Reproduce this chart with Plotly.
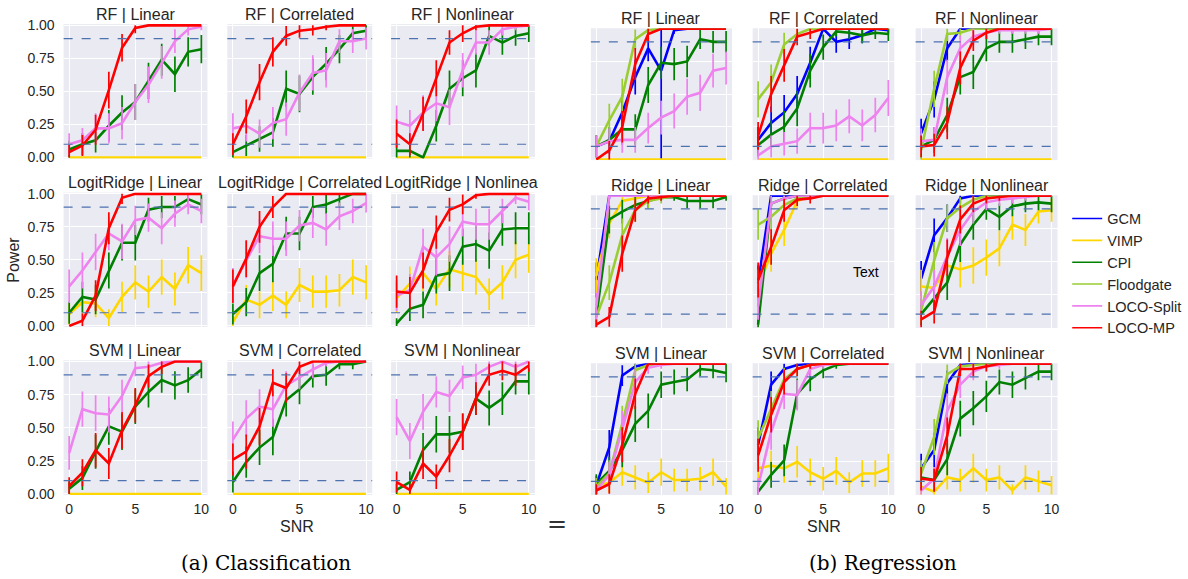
import math
import plotly.graph_objects as go

W, H = 1188, 579
# the photographed page is squeezed vertically: page px -> picture px = SC * (y + OFF)
SC, OFF = 0.973, 8.2

snr = [0, 1, 2, 3, 4, 5, 6, 7, 8, 9, 10]
methods = ["GCM", "VIMP", "CPI", "Floodgate", "LOCO-Split", "LOCO-MP"]
colors = {"GCM": "#0000ff", "VIMP": "#ffd700", "CPI": "#008000",
          "Floodgate": "#9acd32", "LOCO-Split": "#ee82ee", "LOCO-MP": "#ff0000"}
n_runs = 50          # repetitions behind each power estimate (95% CI bars)
alpha_levels = [0.1, 0.9]

# ---- (a) classification ----
cls_rf_linear = {
    "VIMP": [0, 0, 0, 0, 0, 0, 0, 0, 0, 0, 0],
    "CPI": [0.06, 0.10, 0.13, 0.24, 0.34, 0.42, 0.58, 0.74, 0.63, 0.80, 0.82],
    "LOCO-Split": [0.10, 0.13, 0.22, 0.22, 0.26, 0.42, 0.55, 0.72, 0.88, 0.97, 0.99],
    "LOCO-MP": [0.04, 0.09, 0.21, 0.51, 0.83, 0.98, 1, 1, 1, 1, 1],
}
cls_rf_corr = {
    "VIMP": [0, 0, 0, 0, 0, 0, 0, 0, 0, 0, 0],
    "CPI": [0.04, 0.09, 0.14, 0.19, 0.52, 0.48, 0.61, 0.71, 0.82, 0.94, 0.96],
    "LOCO-Split": [0.22, 0.24, 0.18, 0.26, 0.29, 0.49, 0.64, 0.66, 0.88, 0.88, 0.90],
    "LOCO-MP": [0.10, 0.31, 0.57, 0.80, 0.92, 0.96, 0.97, 0.99, 1, 1, 1],
}
cls_rf_nonlin = {
    "VIMP": [0, 0, 0, 0, 0, 0, 0, 0, 0, 0, 0],
    "CPI": [0.05, 0.05, 0.00, 0.24, 0.52, 0.60, 0.66, 0.92, 0.87, 0.92, 0.94],
    "LOCO-Split": [0.27, 0.24, 0.34, 0.41, 0.38, 0.66, 0.87, 0.87, 0.97, 0.99, 1],
    "LOCO-MP": [0.18, 0.10, 0.33, 0.60, 0.87, 0.94, 0.99, 1, 1, 1, 1],
}
cls_lr_linear = {
    "VIMP": [0.09, 0.18, 0.17, 0.06, 0.22, 0.33, 0.26, 0.37, 0.28, 0.46, 0.40],
    "CPI": [0.10, 0.22, 0.20, 0.42, 0.63, 0.63, 0.88, 0.90, 0.90, 0.96, 0.92],
    "LOCO-Split": [0.30, 0.42, 0.56, 0.70, 0.64, 0.80, 0.82, 0.74, 0.85, 0.92, 0.87],
    "LOCO-MP": [0.00, 0.04, 0.23, 0.74, 0.97, 1, 1, 1, 1, 1, 1],
}
cls_lr_corr = {
    "VIMP": [0.03, 0.20, 0.16, 0.23, 0.16, 0.31, 0.26, 0.26, 0.27, 0.37, 0.33],
    "CPI": [0.09, 0.18, 0.40, 0.47, 0.70, 0.70, 0.90, 0.92, 0.96, 1, 1],
    "LOCO-Split": [0.31, 0.50, 0.68, 0.66, 0.66, 0.76, 0.78, 0.73, 0.83, 0.87, 0.93],
    "LOCO-MP": [0.30, 0.51, 0.75, 0.90, 1, 1, 1, 1, 1, 1, 1],
}
cls_lr_nonlin = {
    "VIMP": [0.21, 0.32, 0.40, 0.28, 0.43, 0.40, 0.37, 0.24, 0.33, 0.50, 0.54],
    "CPI": [0.02, 0.13, 0.16, 0.38, 0.40, 0.60, 0.62, 0.57, 0.73, 0.74, 0.74],
    "LOCO-Split": [0.23, 0.27, 0.60, 0.52, 0.62, 0.79, 0.77, 0.77, 0.87, 0.97, 0.94],
    "LOCO-MP": [0.26, 0.25, 0.42, 0.71, 0.88, 0.92, 0.99, 1, 1, 1, 1],
}
cls_svm_linear = {
    "VIMP": [0, 0, 0, 0, 0, 0, 0, 0, 0, 0, 0],
    "CPI": [0.04, 0.12, 0.32, 0.51, 0.47, 0.66, 0.77, 0.86, 0.82, 0.86, 0.94],
    "LOCO-Split": [0.31, 0.64, 0.61, 0.60, 0.74, 0.95, 0.96, 0.99, 1, 1, 1],
    "LOCO-MP": [0.06, 0.16, 0.33, 0.23, 0.48, 0.67, 0.89, 0.96, 1, 1, 1],
}
cls_svm_corr = {
    "VIMP": [0, 0, 0, 0, 0, 0, 0, 0, 0, 0, 0],
    "CPI": [0.09, 0.24, 0.35, 0.43, 0.71, 0.79, 0.89, 0.90, 0.98, 0.98, 1],
    "LOCO-Split": [0.41, 0.57, 0.66, 0.64, 0.82, 0.88, 0.94, 0.99, 1, 1, 1],
    "LOCO-MP": [0.26, 0.32, 0.51, 0.84, 0.80, 0.96, 1, 1, 1, 1, 1],
}
cls_svm_nonlin = {
    "VIMP": [0, 0, 0, 0, 0, 0, 0, 0, 0, 0, 0],
    "CPI": [0.03, 0.09, 0.33, 0.45, 0.45, 0.47, 0.72, 0.65, 0.72, 0.85, 0.85],
    "LOCO-Split": [0.58, 0.40, 0.62, 0.77, 0.74, 0.88, 0.90, 0.96, 1, 0.96, 1],
    "LOCO-MP": [0.09, 0.03, 0.23, 0.13, 0.29, 0.47, 0.72, 0.90, 0.93, 0.90, 0.97],
}

# ---- (b) regression ----
reg_rf_linear = {
    "GCM": [0.10, 0.14, 0.36, 0.63, 0.85, 0.68, 0.99, 1, 1, 1, 1],
    "VIMP": [0, 0, 0, 0, 0, 0, 0, 0, 0, 0, 0],
    "CPI": [0.10, 0.15, 0.23, 0.23, 0.57, 0.74, 0.73, 0.75, 0.92, 0.90, 0.90],
    "Floodgate": [0.10, 0.30, 0.48, 0.92, 0.99, 1, 1, 1, 1, 1, 1],
    "LOCO-Split": [0.10, 0.14, 0.15, 0.15, 0.24, 0.32, 0.37, 0.48, 0.51, 0.68, 0.70],
    "LOCO-MP": [0.00, 0.07, 0.25, 0.73, 0.96, 1, 1, 1, 1, 1, 1],
}
reg_rf_corr = {
    "GCM": [0.15, 0.28, 0.36, 0.50, 0.74, 1, 0.90, 0.92, 0.95, 1, 0.99],
    "VIMP": [0, 0, 0, 0, 0, 0, 0, 0, 0, 0, 0],
    "CPI": [0.11, 0.19, 0.25, 0.39, 0.68, 0.86, 0.98, 0.97, 0.95, 0.97, 0.96],
    "Floodgate": [0.46, 0.59, 0.88, 0.96, 1, 1, 1, 1, 1, 1, 1],
    "LOCO-Split": [0.03, 0.10, 0.12, 0.14, 0.24, 0.24, 0.26, 0.33, 0.26, 0.34, 0.47],
    "LOCO-MP": [0.18, 0.50, 0.72, 0.94, 0.97, 1, 1, 1, 1, 1, 1],
}
reg_rf_nonlin = {
    "GCM": [0.20, 0.46, 0.85, 1, 1, 1, 1, 1, 1, 1, 1],
    "VIMP": [0, 0, 0, 0, 0, 0, 0, 0, 0, 0, 0],
    "CPI": [0.10, 0.15, 0.34, 0.63, 0.67, 0.85, 0.90, 0.90, 0.92, 0.94, 0.94],
    "Floodgate": [0.07, 0.54, 0.96, 0.97, 1, 1, 1, 1, 1, 1, 1],
    "LOCO-Split": [0.14, 0.15, 0.63, 0.85, 0.94, 0.97, 0.99, 0.99, 0.99, 0.99, 1],
    "LOCO-MP": [0.10, 0.11, 0.28, 0.70, 0.91, 0.97, 1, 1, 1, 1, 1],
}
reg_ridge_linear = {
    "GCM": [0.36, 1, 1, 1, 1, 1, 1, 1, 1, 1, 1],
    "VIMP": [0.39, 0.79, 0.96, 0.98, 1, 1, 1, 1, 1, 1, 1],
    "CPI": [0.08, 0.82, 0.88, 0.93, 0.96, 0.99, 0.99, 0.96, 0.96, 0.96, 0.99],
    "Floodgate": [0.08, 0.34, 0.70, 0.89, 0.96, 0.98, 1, 1, 1, 1, 1],
    "LOCO-Split": [0.16, 1, 1, 1, 1, 1, 1, 1, 1, 1, 1],
    "LOCO-MP": [0.02, 0.08, 0.56, 0.89, 0.98, 0.99, 1, 1, 1, 1, 1],
}
reg_ridge_corr = {
    "GCM": [0.34, 1, 1, 1, 1, 1, 1, 1, 1, 1, 1],
    "VIMP": [0.31, 0.56, 0.74, 0.96, 1, 1, 1, 1, 1, 1, 1],
    "CPI": [0.02, 0.94, 0.98, 1, 1, 1, 1, 1, 1, 1, 1],
    "Floodgate": [0.78, 0.84, 0.93, 0.98, 1, 1, 1, 1, 1, 1, 1],
    "LOCO-Split": [0.16, 0.94, 0.98, 1, 1, 1, 1, 1, 1, 1, 1],
    "LOCO-MP": [0.36, 0.61, 0.89, 0.97, 0.98, 1, 1, 1, 1, 1, 1],
}
reg_ridge_nonlin = {
    "GCM": [0.37, 0.70, 0.83, 0.98, 1, 1, 1, 1, 1, 1, 1],
    "VIMP": [0.31, 0.30, 0.47, 0.44, 0.47, 0.53, 0.60, 0.78, 0.74, 0.88, 0.89],
    "CPI": [0.10, 0.22, 0.34, 0.63, 0.78, 0.90, 0.84, 0.92, 0.94, 0.95, 0.94],
    "Floodgate": [0.13, 0.51, 0.83, 0.91, 0.97, 1, 1, 1, 1, 1, 1],
    "LOCO-Split": [0.17, 0.31, 0.54, 0.74, 0.88, 0.95, 0.97, 0.98, 0.99, 1, 1],
    "LOCO-MP": [0.06, 0.12, 0.53, 0.82, 0.94, 0.98, 0.99, 1, 1, 1, 1],
}
reg_svm_linear = {
    "GCM": [0.07, 0.36, 0.91, 0.98, 1, 1, 1, 1, 1, 1, 1],
    "VIMP": [0.07, 0.09, 0.17, 0.13, 0.09, 0.17, 0.11, 0.11, 0.12, 0.17, 0.06],
    "CPI": [0.08, 0.18, 0.34, 0.54, 0.64, 0.84, 0.86, 0.88, 0.96, 0.95, 0.93],
    "Floodgate": [0.06, 0.16, 0.54, 0.95, 0.99, 1, 1, 1, 1, 1, 1],
    "LOCO-Split": [0.03, 0.15, 0.50, 0.86, 0.97, 0.99, 1, 1, 1, 1, 1],
    "LOCO-MP": [0.03, 0.08, 0.38, 0.77, 1, 1, 1, 1, 1, 1, 1],
}
reg_svm_corr = {
    "GCM": [0.38, 0.84, 0.96, 0.99, 1, 1, 1, 1, 1, 1, 1],
    "VIMP": [0.20, 0.22, 0.20, 0.25, 0.17, 0.12, 0.18, 0.09, 0.16, 0.16, 0.20],
    "CPI": [0.02, 0.15, 0.26, 0.77, 0.88, 0.95, 0.99, 1, 1, 1, 1],
    "Floodgate": [0.43, 0.66, 0.88, 0.96, 0.99, 1, 1, 1, 1, 1, 1],
    "LOCO-Split": [0.06, 0.48, 0.77, 0.76, 0.96, 0.99, 1, 1, 1, 1, 1],
    "LOCO-MP": [0.30, 0.61, 0.86, 0.96, 0.99, 1, 1, 1, 1, 1, 1],
}
reg_svm_nonlin = {
    "GCM": [0.20, 0.34, 0.85, 0.99, 1, 1, 1, 1, 1, 1, 1],
    "VIMP": [0.06, 0.02, 0.13, 0.11, 0.20, 0.11, 0.13, 0.03, 0.13, 0.10, 0.07],
    "CPI": [0.13, 0.11, 0.27, 0.58, 0.66, 0.75, 0.86, 0.84, 0.89, 0.94, 0.94],
    "Floodgate": [0.16, 0.44, 0.92, 0.98, 0.99, 1, 1, 1, 1, 1, 1],
    "LOCO-Split": [0.03, 0.12, 0.64, 0.84, 0.94, 0.98, 0.99, 1, 1, 1, 1],
    "LOCO-MP": [0.12, 0.11, 0.45, 0.96, 0.96, 0.98, 1, 1, 1, 1, 1],
}
# one GCM interval that spans almost the whole range (RF | Linear, SNR 5)
wide_bars = {("reg", 0, 0, "GCM", 5): (0.32, 0.68)}

cls_models = ["RF", "LogitRidge", "SVM"]
reg_models = ["RF", "Ridge", "SVM"]
settings = ["Linear", "Correlated", "Nonlinear"]
cls_grid = [[cls_rf_linear, cls_rf_corr, cls_rf_nonlin],
            [cls_lr_linear, cls_lr_corr, cls_lr_nonlin],
            [cls_svm_linear, cls_svm_corr, cls_svm_nonlin]]
reg_grid = [[reg_rf_linear, reg_rf_corr, reg_rf_nonlin],
            [reg_ridge_linear, reg_ridge_corr, reg_ridge_nonlin],
            [reg_svm_linear, reg_svm_corr, reg_svm_nonlin]]

# panel geometry in picture pixels: where SNR 0 / 10 and power 1 / 0 fall
cols_px = {"cls": [(69.3, 201.7), (233.3, 366.7), (397.3, 529.7)],
           "reg": [(597.3, 727.3), (759.4, 889.8), (922.7, 1053.3)]}
rows_px = {"cls": [(26.3, 158.0), (194.3, 326.0), (361.5, 493.5)],
           "reg": [(29.7, 160.0), (196.2, 327.4), (363.7, 494.0)]}
title_y = {"cls": [15.0, 183.3, 350.0], "reg": [19.3, 186.0, 353.0]}
xrange = [-0.42, 10.46]
yrange = {"cls": [-0.008, 1.01], "reg": [-0.005, 1.004]}

FONT = "Liberation Sans, Arial, Helvetica, sans-serif"
TXT = "#262626"


def px(x):
    return x / W


def py(y):
    return 1 - (y / SC - OFF) / H


def ci(vals):
    up, lo = [], []
    for p in vals:
        h = 1.96 * math.sqrt(p * (1 - p) / n_runs)
        up.append(min(h, 1 - p))
        lo.append(min(h, p))
    return up, lo


fig = go.Figure()

# legend entries (thin lines as in the original legend)
for m in methods:
    fig.add_trace(go.Scatter(x=[None], y=[None], mode="lines", name=m,
                             line=dict(color=colors[m], width=1.6),
                             xaxis="x", yaxis="y", showlegend=True))

layout = {}
annotations = []
shapes = []
idx = 0
for group, grid, models in [("cls", cls_grid, cls_models), ("reg", reg_grid, reg_models)]:
    for r in range(3):
        for c in range(3):
            idx += 1
            sfx = "" if idx == 1 else str(idx)
            xa, xb = cols_px[group][c]
            ux = (xb - xa) / 10
            left, right = xa + xrange[0] * ux, xb + (xrange[1] - 10) * ux
            y1p, y0p = rows_px[group][r]
            uy = y0p - y1p
            lo_r, hi_r = yrange[group]
            top, bot = y1p - (hi_r - 1) * uy, y0p - lo_r * uy
            panel = grid[r][c]
            for m in methods:
                if m not in panel:
                    continue
                vals = panel[m]
                up, lo = ci(vals)
                for (g, rr, cc, mm, k), (u, l) in wide_bars.items():
                    if g == group and rr == r and cc == c and mm == m:
                        up[k], lo[k] = u, l
                fig.add_trace(go.Scatter(
                    x=snr, y=vals, mode="lines", showlegend=False, name=m,
                    line=dict(color=colors[m], width=2.6),
                    error_y=dict(type="data", array=up, arrayminus=lo, symmetric=False,
                                 color=colors[m], thickness=1.7, width=0),
                    xaxis="x" + sfx, yaxis="y" + sfx, hoverinfo="skip"))
            layout["xaxis" + sfx] = dict(
                domain=[px(left), px(right)], anchor="y" + sfx, range=xrange,
                tickvals=[0, 5, 10], showticklabels=(r == 2), showgrid=True,
                gridcolor="white", gridwidth=1, zeroline=False, showline=False,
                ticks="", tickfont=dict(size=14, color=TXT), ticklabelstandoff=4)
            layout["yaxis" + sfx] = dict(
                domain=[py(bot), py(top)], anchor="x" + sfx, range=yrange[group],
                tickvals=[0, 0.25, 0.5, 0.75, 1], tickformat=".2f",
                showticklabels=(group == "cls" and c == 0), showgrid=True,
                gridcolor="white", gridwidth=1, zeroline=False, showline=False,
                ticks="", tickfont=dict(size=14, color=TXT), ticklabelstandoff=8)
            for a in alpha_levels:
                shapes.append(dict(type="line", xref="x" + sfx + " domain", x0=0, x1=1,
                                   yref="y" + sfx, y0=a, y1=a, layer="above",
                                   line=dict(color="#4c72b0", width=1.2, dash="dash")))
            title = models[r] + " | " + settings[c]
            ty = py(title_y[group][r])
            if title == "LogitRidge | Nonlinear":
                # clipped by the subfigure edge in the original
                annotations.append(dict(text="LogitRidge | Nonlinea", x=px(384), y=ty,
                                        xref="paper", yref="paper", xanchor="left", yanchor="middle",
                                        showarrow=False, font=dict(size=16, color=TXT, family=FONT)))
            else:
                annotations.append(dict(text=title, x=px((left + right) / 2), y=ty,
                                        xref="paper", yref="paper", xanchor="center", yanchor="middle",
                                        showarrow=False, font=dict(size=16, color=TXT, family=FONT)))
            if group == "reg" and r == 1 and c == 1:
                annotations.append(dict(text="Text", x=8.25, y=0.42, xref="x" + sfx, yref="y" + sfx,
                                        xanchor="center", yanchor="middle",
                                        showarrow=False, font=dict(size=14, color="black", family=FONT)))

label_font = dict(size=16, color=TXT, family=FONT)
serif = "DejaVu Serif, serif"
for text, x, y, font, angle in [
    ("Power", 14, 260, label_font, -90),
    ("SNR", 298, 526, label_font, 0),
    ("SNR", 825, 526, label_font, 0),
    ("=", 558, 523, dict(size=24, color="#333333", family=serif), 0),
    ("(a) Classification", 266.5, 562, dict(size=20, color="black", family=serif), 0),
    ("(b) Regression", 884, 562, dict(size=20, color="black", family=serif), 0),
]:
    annotations.append(dict(text=text, x=px(x), y=py(y), xref="paper", yref="paper",
                            xanchor="center", yanchor="middle", textangle=angle,
                            showarrow=False, font=font))

fig.update_layout(
    **layout,
    width=W, height=H, autosize=False,
    margin=dict(l=0, r=0, t=0, b=0),
    paper_bgcolor="white", plot_bgcolor="#eaeaf2",
    font=dict(family=FONT, color=TXT),
    annotations=annotations, shapes=shapes,
    legend=dict(x=px(1069), y=py(203), xanchor="left", yanchor="top",
                bgcolor="rgba(0,0,0,0)", font=dict(size=14.5, color=TXT, family=FONT),
                itemwidth=30, tracegroupgap=0),
)

fig.write_html("out.html", config={"displayModeBar": False},
               post_script="document.body.style.margin='0';")
